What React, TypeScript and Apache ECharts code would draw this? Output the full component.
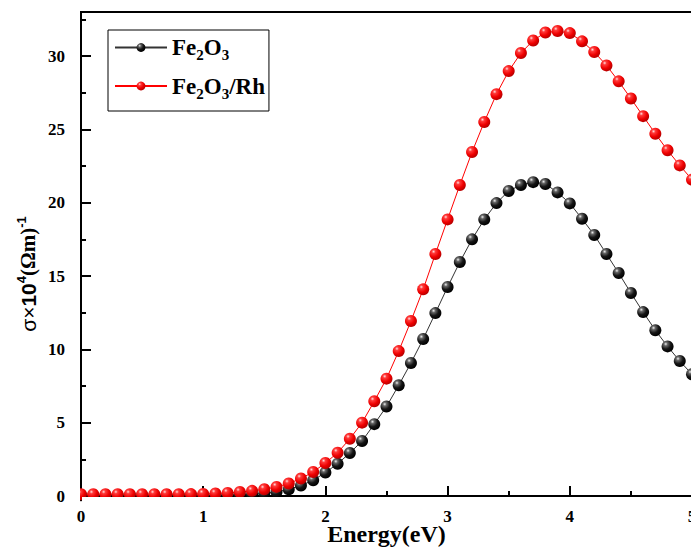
import React, { useEffect, useRef } from 'react';
import * as echarts from 'echarts';

const energy = [
  0.0, 0.1, 0.2, 0.3, 0.4, 0.5, 0.6, 0.7, 0.8, 0.9,
  1.0, 1.1, 1.2, 1.3, 1.4, 1.5, 1.6, 1.7, 1.8, 1.9,
  2.0, 2.1, 2.2, 2.3, 2.4, 2.5, 2.6, 2.7, 2.8, 2.9,
  3.0, 3.1, 3.2, 3.3, 3.4, 3.5, 3.6, 3.7, 3.8, 3.9,
  4.0, 4.1, 4.2, 4.3, 4.4, 4.5, 4.6, 4.7, 4.8, 4.9,
  5.0,
];

const fe2o3 = [
  0.05, 0.05, 0.05, 0.05, 0.05, 0.05, 0.05, 0.05, 0.05, 0.05,
  0.05, 0.06, 0.07, 0.09, 0.12, 0.18, 0.28, 0.45, 0.72, 1.07,
  1.6, 2.2, 2.93, 3.75, 4.9, 6.1, 7.55, 9.07, 10.7, 12.47,
  14.25, 15.95, 17.5, 18.86, 19.97, 20.8, 21.2, 21.4, 21.27, 20.7,
  19.95, 18.9, 17.8, 16.5, 15.2, 13.84, 12.54, 11.3, 10.2, 9.2,
  8.3,
];

const fe2o3Rh = [
  0.12, 0.12, 0.12, 0.12, 0.12, 0.12, 0.12, 0.12, 0.12, 0.13,
  0.14, 0.17, 0.21, 0.27, 0.35, 0.46, 0.62, 0.85, 1.19, 1.64,
  2.25, 2.95, 3.9, 5.0, 6.46, 8.0, 9.88, 11.93, 14.09, 16.5,
  18.86, 21.2, 23.45, 25.5, 27.4, 28.97, 30.2, 31.06, 31.6, 31.7,
  31.56, 31.0, 30.27, 29.36, 28.27, 27.1, 25.9, 24.7, 23.57, 22.54,
  21.57,
];

const seriesNames = ['Fe2O3', 'Fe2O3/Rh'];
const legendRich = ['{a|Fe}{b|2}{a|O}{b|3}', '{a|Fe}{b|2}{a|O}{b|3}{a|/Rh}'];
const yTitleRich = '{s|σ×}{t|10}{sup|4}{p|(Ωm)}{sup|-1}';
const xTitle = 'Energy(eV)';

const SERIF = '"Liberation Serif", "Times New Roman", serif';
const SANS = '"Liberation Sans", Arial, sans-serif';

export default function App() {
  const ref = useRef<HTMLDivElement>(null);

  useEffect(() => {
    if (!ref.current) return;
    const chart = echarts.init(ref.current, undefined, { renderer: 'svg' });

    const blackBall = new echarts.graphic.RadialGradient(0.35, 0.3, 0.7, [
      { offset: 0, color: '#f0f0f0' },
      { offset: 0.22, color: '#666' },
      { offset: 0.6, color: '#151515' },
      { offset: 1, color: '#000' },
    ]);
    const redBall = new echarts.graphic.RadialGradient(0.35, 0.3, 0.7, [
      { offset: 0, color: '#ffe0e0' },
      { offset: 0.22, color: '#ff3a3a' },
      { offset: 0.65, color: '#ee0000' },
      { offset: 1, color: '#b80000' },
    ]);

    const mk = (vals: number[]) => energy.map((e, i) => [e, vals[i]]);

    chart.setOption({
      animation: false,
      backgroundColor: '#fff',
      grid: {
        left: 81,
        top: 12,
        width: 611,
        height: 484,
        outerBoundsMode: 'none',
        containLabel: false,
        show: true,
        borderColor: '#000',
        borderWidth: 2,
        backgroundColor: 'transparent',
      },
      legend: {
        orient: 'vertical',
        left: 108,
        top: 30,
        data: seriesNames,
        itemWidth: 52,
        itemHeight: 11,
        itemGap: 12,
        padding: [6, 4, 10, 6],
        borderColor: '#000',
        borderWidth: 1,
        borderRadius: 0,
        formatter: (name: string) => legendRich[seriesNames.indexOf(name)],
        textStyle: {
          rich: {
            a: { fontFamily: SERIF, fontWeight: 'bold', fontSize: 23, color: '#000', lineHeight: 30 },
            b: { fontFamily: SERIF, fontWeight: 'bold', fontSize: 15, color: '#000', verticalAlign: 'bottom', lineHeight: 16 },
          },
        },
      },
      xAxis: {
        type: 'value',
        min: 0,
        max: 5,
        interval: 1,
        name: xTitle,
        nameLocation: 'middle',
        nameGap: 26,
        nameMoveOverlap: false,
        nameTextStyle: { fontFamily: SERIF, fontWeight: 'bold', fontSize: 24, color: '#000' },
        axisLine: { show: true, lineStyle: { color: '#000', width: 2 } },
        axisTick: { show: true, inside: true, length: 10, lineStyle: { color: '#000', width: 2 } },
        minorTick: { show: true, splitNumber: 2, length: 5, lineStyle: { color: '#000', width: 2 } },
        axisLabel: { margin: 12, fontFamily: SERIF, fontWeight: 'bold', fontSize: 17, color: '#000' },
        splitLine: { show: false },
      },
      yAxis: {
        type: 'value',
        min: 0,
        max: 33,
        interval: 5,
        axisLine: { show: true, lineStyle: { color: '#000', width: 2 } },
        axisTick: { show: true, inside: true, length: 10, lineStyle: { color: '#000', width: 2 } },
        minorTick: { show: true, splitNumber: 2, length: 5, lineStyle: { color: '#000', width: 2 } },
        axisLabel: {
          margin: 16,
          fontFamily: SERIF,
          fontWeight: 'bold',
          fontSize: 17,
          color: '#000',
          showMaxLabel: false,
        },
        splitLine: { show: false },
      },
      series: [
        {
          name: seriesNames[0],
          type: 'line',
          data: mk(fe2o3),
          symbol: 'circle',
          symbolSize: 12,
          lineStyle: { color: '#333', width: 1 },
          itemStyle: { color: blackBall },
          z: 2,
        },
        {
          name: seriesNames[1],
          type: 'line',
          data: mk(fe2o3Rh),
          symbol: 'circle',
          symbolSize: 12,
          lineStyle: { color: '#ff0000', width: 1 },
          itemStyle: { color: redBall },
          z: 3,
        },
      ],
      graphic: [
        {
          type: 'rect',
          shape: { x: 82, y: 497, width: 620, height: 5 },
          style: { fill: '#fff' },
          z: 100,
          silent: true,
        },
        {
          type: 'rect',
          shape: { x: 66, y: 484, width: 14, height: 18 },
          style: { fill: '#fff' },
          z: 100,
          silent: true,
        },
        {
          type: 'text',
          x: 28,
          y: 274,
          rotation: Math.PI / 2,
          z: 100,
          style: {
            text: yTitleRich,
            align: 'center',
            verticalAlign: 'middle',
            rich: {
              s: { fontFamily: SANS, fontSize: 21, fill: '#000', lineHeight: 26 },
              t: { fontFamily: SANS, fontWeight: 'bold', fontSize: 21, fill: '#000', lineHeight: 26 },
              sup: { fontFamily: SANS, fontWeight: 'bold', fontSize: 13, fill: '#000', verticalAlign: 'top', lineHeight: 14 },
              p: { fontFamily: SERIF, fontWeight: 'bold', fontSize: 21, fill: '#000', lineHeight: 26 },
            },
          },
        },
      ],
    });

    return () => chart.dispose();
  }, []);

  return (
    <div
      ref={ref}
      style={{ position: 'fixed', left: 0, top: 0, width: 691, height: 549 }}
    />
  );
}
